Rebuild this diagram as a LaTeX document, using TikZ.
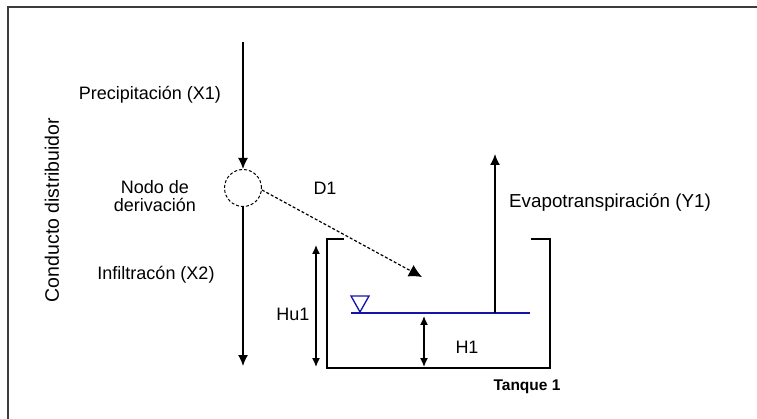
\documentclass[tikz,border=0pt]{standalone}
\usepackage{fontspec}
\setmainfont{Liberation Sans}
\usetikzlibrary{arrows.meta}
\definecolor{waterblue}{RGB}{20,20,170}
\definecolor{framegray}{RGB}{60,60,60}
\begin{document}
\begin{tikzpicture}[x=1pt,y=-1pt,
  lbl/.style={inner sep=0pt,font=\fontsize{18}{21}\selectfont},
  flow/.style={line width=1.4pt,-{Latex[length=11pt,width=10pt]}},
  dim/.style={line width=1.4pt,{Latex[length=9pt,width=8pt]}-{Latex[length=9pt,width=8pt]}},
  wall/.style={line width=1.6pt},
  water/.style={waterblue,line width=1.3pt}]
\useasboundingbox (0,0) rectangle (757,419);
\fill[white] (0,0) rectangle (757,419);
% frame (top and left only)
\coordinate (fa) at (8,7);
\coordinate (fb) at (757,7);
\coordinate (fc) at (8,419);
\draw[framegray,line width=2.2pt] (fb) -- (fa) -- (fc);
% node
\node[draw,circle,densely dashed,line width=1pt,minimum size=37pt,inner sep=0pt] (nd) at (243,188) {};
\coordinate (p0) at (243,42);
\coordinate (x2) at (243,366);
\coordinate (d1e) at (422,277);
\draw[flow] (p0) -- (nd.north);
\draw[flow] (nd.south) -- (x2);
\draw[line width=1.2pt,densely dashed,-{Latex[length=13pt,width=13pt]}] (nd.east) ++(0,2) -- (d1e);
% tank
\coordinate (tl1) at (344,239);
\coordinate (tl0) at (327,239);
\coordinate (bl) at (327,368);
\coordinate (br) at (550,368);
\coordinate (tr0) at (550,239);
\coordinate (tr1) at (531,239);
\draw[wall] (tl1) -- (tl0) -- (bl) -- (br) -- (tr0) -- (tr1);
% water level
\coordinate (w0) at (351,313);
\coordinate (w1) at (530,313);
\draw[water] (w0) -- (w1);
\coordinate (tA) at (351,296);
\coordinate (tB) at (369,296);
\coordinate (tC) at (360,312);
\draw[water] (tA) -- (tB) -- (tC) -- cycle;
% evaporation
\coordinate (ev0) at (495,313);
\coordinate (ev1) at (495,154);
\draw[flow] (ev0) -- (ev1);
% dimensions
\coordinate (hu0) at (316,245);
\coordinate (hu1) at (316,367);
\draw[dim] (hu0) -- (hu1);
\coordinate (h0) at (424,316);
\coordinate (h1) at (424,367);
\draw[dim] (h0) -- (h1);
% labels
\node[lbl] (lp) at (150,95) {Precipitación (X1)};
\node[lbl,align=center,font=\fontsize{18}{18}\selectfont] (ln) at (155,196) {Nodo de\\derivación};
\node[lbl] (ld) at (325,188) {D1};
\node[lbl] (li) at (156,275) {Infiltracón (X2)};
\node[lbl] (lhu) at (293,314) {Hu1};
\node[lbl] (lh) at (467,347) {H1};
\node[lbl,font=\fontsize{18.8}{21}\selectfont] (le) at (610,203) {Evapotranspiración (Y1)};
\node[inner sep=0pt,font=\fontsize{15.5}{18}\selectfont\bfseries] (lt) at (527,387) {Tanque 1};
\node[lbl,rotate=90,font=\fontsize{19.5}{22}\selectfont] (lc) at (52,210) {Conducto distribuidor};
\end{tikzpicture}
\end{document}
